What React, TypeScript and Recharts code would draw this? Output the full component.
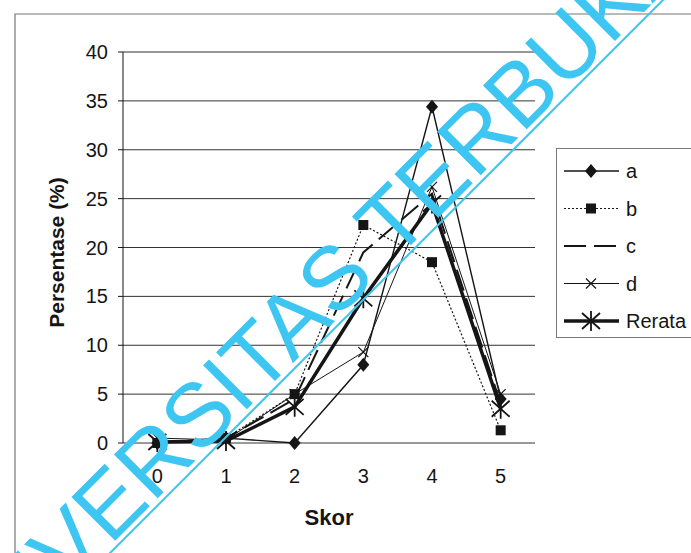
import React from "react";
import { LineChart, Line, XAxis, YAxis, CartesianGrid, Legend, ReferenceLine } from "recharts";

// nilai (persen per skor)
const skor = ["0", "1", "2", "3", "4", "5"];
const seriesA = [0, 0.5, 0, 8, 34.4, 4.5];
const seriesB = [0, 0.5, 5, 22.3, 18.5, 1.3];
const seriesC = [0, 0.5, 4.5, 19.5, 25.5, 4];
const seriesD = [0.5, 0.3, 5, 9.3, 26.2, 5];
const rerata = [0.1, 0.2, 3.7, 14.8, 24.5, 3.5];
const yTicks = [0, 5, 10, 15, 20, 25, 30, 35, 40];
const bandEdges = [0, 1, 2, 3, 4, 5, 6];

const data = skor.map((s, i) => ({
  skor: s,
  a: seriesA[i],
  b: seriesB[i],
  c: seriesC[i],
  d: seriesD[i],
  rerata: rerata[i],
}));

const FONT = "'Liberation Sans', Arial, sans-serif";
const INK = "#151515";

type DotProps = { cx?: number; cy?: number; index?: number };

const diamondDot = ({ cx, cy, index }: DotProps) =>
  cx == null || cy == null ? null : (
    <polygon key={`a-${index}`} points={`${cx},${cy - 7} ${cx + 6},${cy} ${cx},${cy + 7} ${cx - 6},${cy}`} fill={INK} />
  );

const squareDot = ({ cx, cy, index }: DotProps) =>
  cx == null || cy == null ? null : <rect key={`b-${index}`} x={cx - 5} y={cy - 5} width={10} height={10} fill={INK} />;

const crossDot = ({ cx, cy, index }: DotProps) =>
  cx == null || cy == null ? null : (
    <path key={`d-${index}`} d={`M${cx - 5},${cy - 5}L${cx + 5},${cy + 5}M${cx - 5},${cy + 5}L${cx + 5},${cy - 5}`} stroke={INK} strokeWidth={1.2} />
  );

const starDot = ({ cx, cy, index }: DotProps) =>
  cx == null || cy == null ? null : (
    <path
      key={`r-${index}`}
      d={`M${cx - 9},${cy - 8}L${cx + 9},${cy + 8}M${cx - 9},${cy + 8}L${cx + 9},${cy - 8}M${cx},${cy - 10}L${cx},${cy + 10}`}
      stroke={INK}
      strokeWidth={1.8}
    />
  );

const legendItems = [
  { key: "a", label: "a", width: 1.4, dash: undefined as string | undefined, marker: diamondDot },
  { key: "b", label: "b", width: 1.2, dash: "2 2", marker: squareDot },
  { key: "c", label: "c", width: 2, dash: "22 8", marker: null },
  { key: "d", label: "d", width: 1, dash: undefined, marker: crossDot },
  { key: "rerata", label: "Rerata", width: 3.5, dash: undefined, marker: starDot },
];

const LegendBox = () => (
  <svg width={135} height={190} style={{ display: "block" }}>
    {legendItems.map((it, i) => {
      const y = 22 + i * 37.5;
      return (
        <g key={it.key}>
          <line x1={7} x2={62} y1={y} y2={y} stroke={INK} strokeWidth={it.width} strokeDasharray={it.dash} />
          {it.marker ? it.marker({ cx: 34, cy: y, index: 99 }) : null}
          <text x={69} y={y + 7} fontSize={20} fontFamily={FONT} fill={INK}>
            {it.label}
          </text>
        </g>
      );
    })}
  </svg>
);

const YTitle = ({ viewBox }: any) => {
  const x = viewBox.x + 41;
  const y = viewBox.y + viewBox.height / 2 + 5;
  return (
    <text x={x} y={y} transform={`rotate(-90 ${x} ${y})`} textAnchor="middle" dominantBaseline="central" fontSize={21} fontWeight="bold" fontFamily={FONT} fill={INK}>
      Persentase (%)
    </text>
  );
};

const XTitle = ({ viewBox }: any) => (
  <text x={viewBox.x + viewBox.width / 2} y={viewBox.y + 82} textAnchor="middle" fontSize={22} fontWeight="bold" fontFamily={FONT} fill={INK}>
    Skor
  </text>
);

export default function App() {
  return (
    <div style={{ position: "absolute", left: 0, top: 0, width: 691, height: 553, background: "#fff", overflow: "hidden" }}>
      <LineChart width={691} height={553} data={data} margin={{ top: 52, right: 156, bottom: 0, left: 15 }}>
        <CartesianGrid vertical={false} stroke="#333" strokeWidth={1} />
        <XAxis
          xAxisId="edge"
          type="number"
          domain={[0, 6]}
          ticks={bandEdges}
          allowDataOverflow
          height={0}
          tick={false}
          tickSize={5}
          axisLine={{ stroke: INK }}
          tickLine={{ stroke: INK }}
        />
        <XAxis
          dataKey="skor"
          scale="band"
          height={110}
          axisLine={false}
          tickLine={false}
          tickSize={6}
          tickMargin={20}
          tick={{ fontSize: 20, fill: INK, fontFamily: FONT }}
          label={<XTitle />}
        />
        <YAxis
          domain={[0, 40]}
          ticks={yTicks}
          width={108}
          tickSize={5}
          tickMargin={10}
          axisLine={{ stroke: INK }}
          tickLine={{ stroke: INK }}
          tick={{ fontSize: 20, fill: INK, fontFamily: FONT }}
          label={<YTitle />}
        />
        <ReferenceLine xAxisId="edge" x={6} stroke="#444" />
        <Line dataKey="a" stroke={INK} strokeWidth={1.4} dot={diamondDot} isAnimationActive={false} />
        <Line dataKey="b" stroke={INK} strokeWidth={1.2} strokeDasharray="2 2" dot={squareDot} isAnimationActive={false} />
        <Line dataKey="c" stroke={INK} strokeWidth={2} strokeDasharray="22 8" dot={false} isAnimationActive={false} />
        <Line dataKey="d" stroke={INK} strokeWidth={1} dot={crossDot} isAnimationActive={false} />
        <Line dataKey="rerata" stroke={INK} strokeWidth={3.5} dot={starDot} isAnimationActive={false} />
        <Legend
          layout="vertical"
          align="center"
          verticalAlign="middle"
          wrapperStyle={{ left: 556, top: 148, width: 135, height: 188, border: "1px solid #777", borderRight: "none", background: "#fff" }}
          content={() => <LegendBox />}
        />
      </LineChart>
      <svg width={691} height={553} style={{ position: "absolute", left: 0, top: 0, pointerEvents: "none" }}>
        <path d="M15,553V14H691" fill="none" stroke="#777" strokeWidth={1.2} />
        <text x={-42} y={698} transform="rotate(-45 -42 698)" fontSize={90} fontFamily={FONT} fill="#3ec6f2">
          UNIVERSITAS TERBUKA
        </text>
        <line x1={100} y1={563} x2={680} y2={-17} stroke="#3ec6f2" strokeWidth={2} />
      </svg>
    </div>
  );
}
